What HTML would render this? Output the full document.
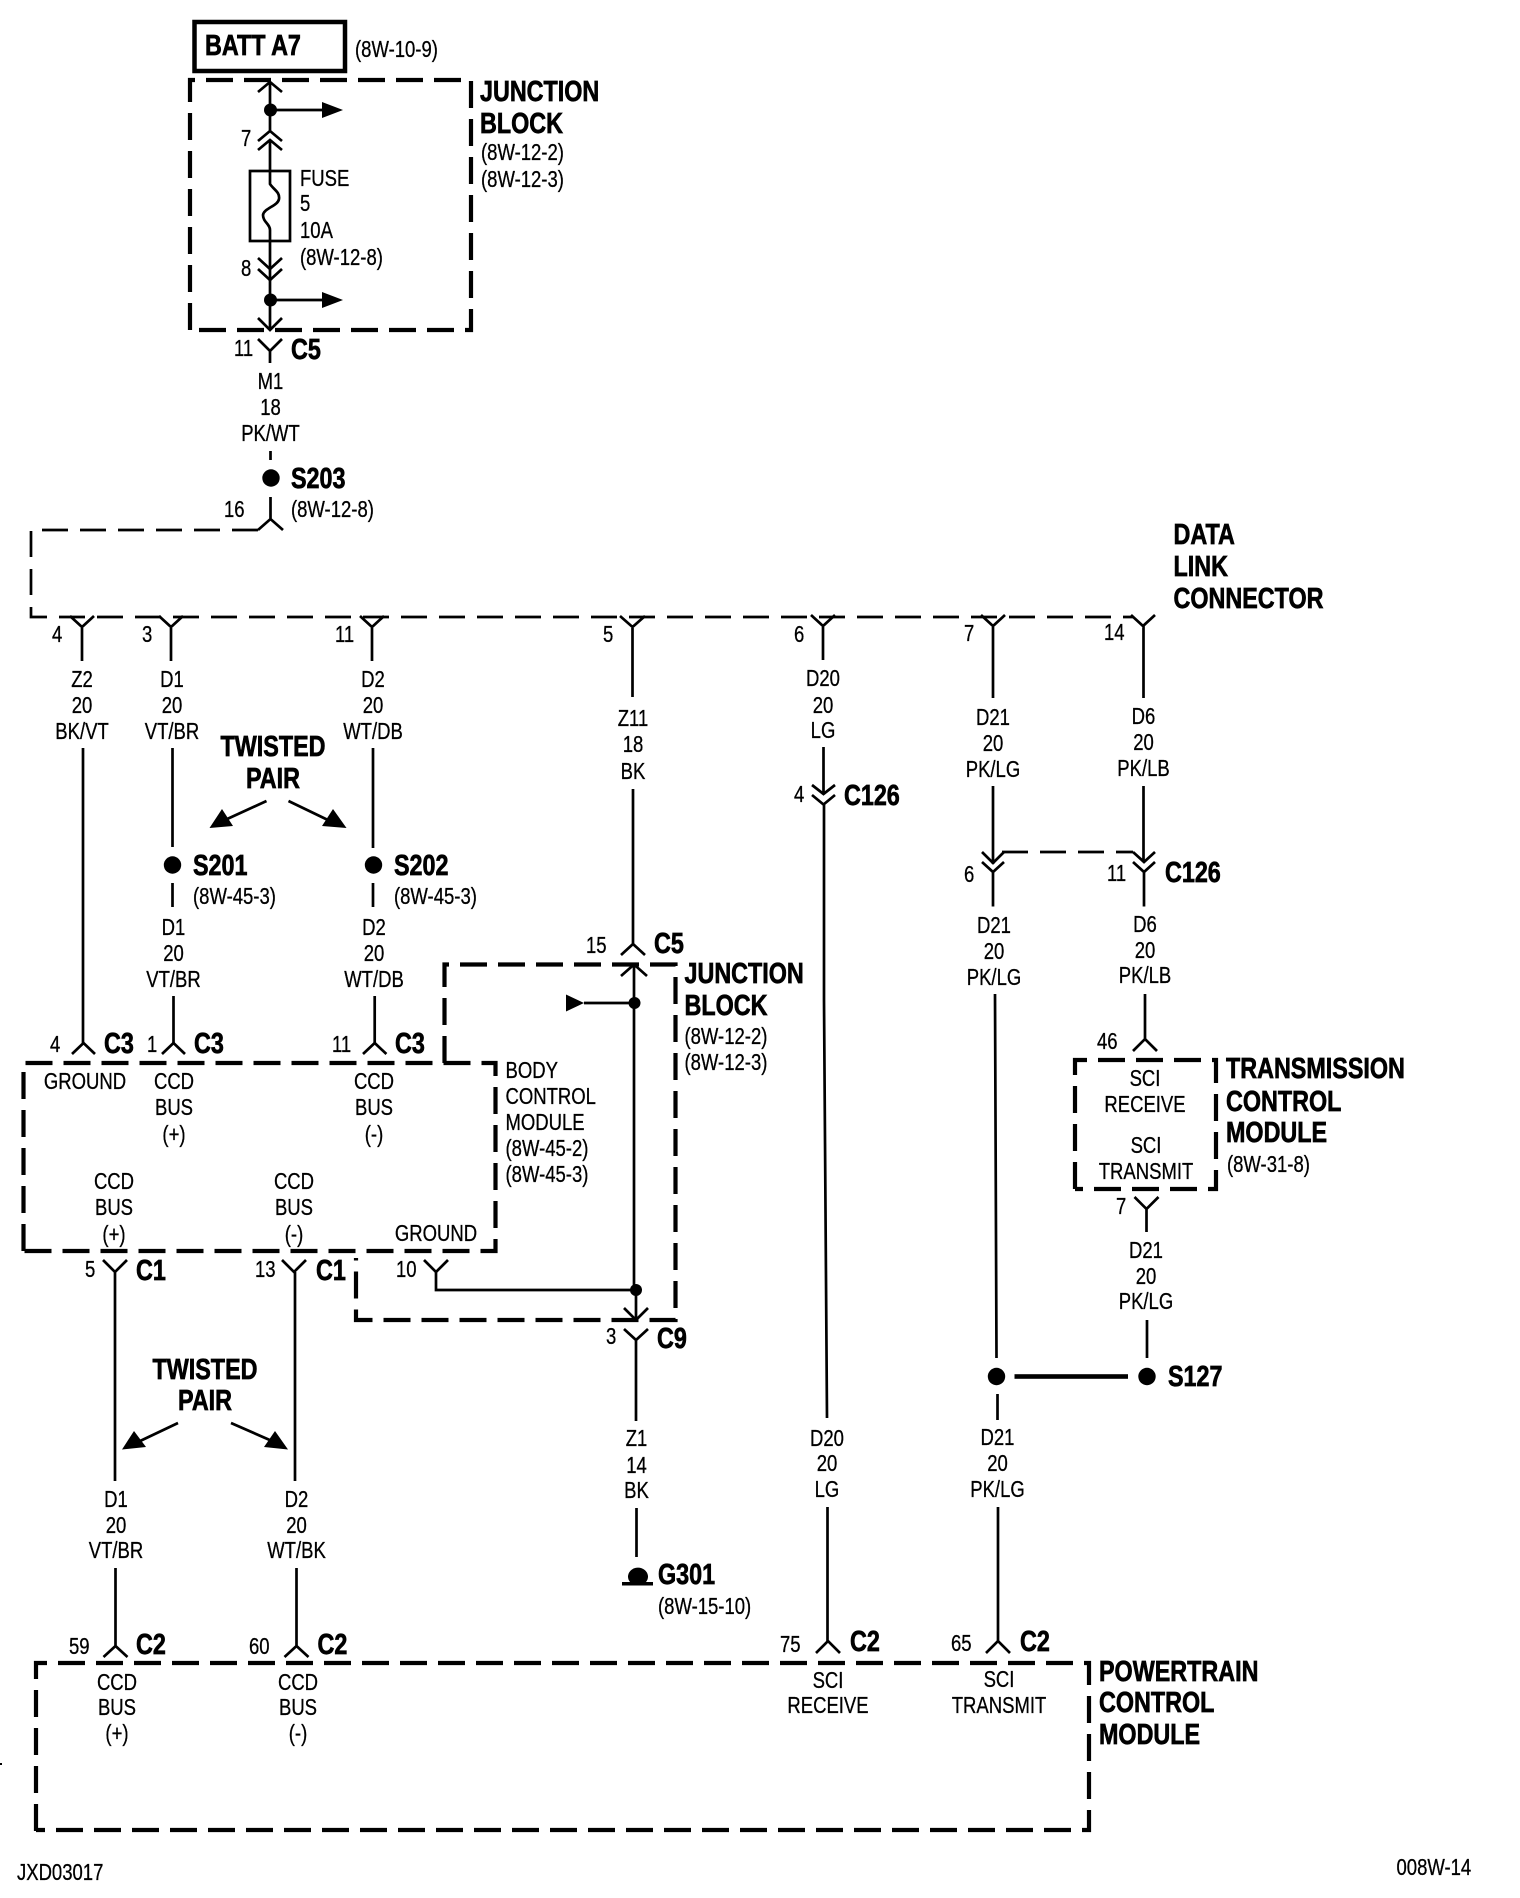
<!DOCTYPE html>
<html><head><meta charset="utf-8"><style>
html,body{margin:0;padding:0;background:#fff;width:1520px;height:1898px;overflow:hidden}
svg{display:block}
text{font-family:"Liberation Sans",sans-serif;font-size:23px;fill:#000;stroke:#000;stroke-width:.3;transform-box:fill-box;transform-origin:left center;transform:scaleX(.805)}
text.m{text-anchor:middle;transform-origin:center}
text.b{font-weight:bold;font-size:29px;stroke:#000;stroke-width:.7}
.w{fill:none;stroke:#000;stroke-width:2.7}
.d{fill:none;stroke:#000;stroke-width:4.2;stroke-dasharray:27 11}
.t{fill:none;stroke:#000;stroke-width:2.7;stroke-dasharray:26 12}
</style></head><body>
<svg width="1520" height="1898" viewBox="0 0 1520 1898" xmlns="http://www.w3.org/2000/svg">
<rect x="194.500" y="22" width="150.500" height="49" fill="none" stroke="#000" stroke-width="4.5"/>
<text class="b" x="205" y="55">BATT A7</text>
<text x="355" y="57">(8W-10-9)</text>
<path class="d" d="M190 330V80H471V330H190"/>
<text class="b" x="480" y="101">JUNCTION</text>
<text class="b" x="480" y="133">BLOCK</text>
<text x="481" y="160">(8W-12-2)</text>
<text x="481" y="187">(8W-12-3)</text>

<path class="w" d="M270 82V131M258 92l12-10l12 10M258 141l12-10l12 10M258 150l12-10l12 10M270 140V171"/>
<path class="w" d="M270 110H322"/><path d="M322 102L343 110L322 118Z"/><circle cx="270.500" cy="110" r="6.500"/>
<text x="241" y="146">7</text>
<rect x="250" y="171" width="40" height="70" fill="none" stroke="#000" stroke-width="2.700"/>
<path class="w" d="M270 171V184C274 190 280 192 279 199C278 206 264 208 263 215C263 222 270 224 270 230V281"/>
<text x="300" y="186">FUSE</text>
<text x="300" y="211">5</text>
<text x="300" y="238">10A</text>
<text x="300" y="265">(8W-12-8)</text>
<path class="w" d="M258 258l12 11l12-11M258 269l12 11l12-11"/>
<text x="241" y="276">8</text>
<path class="w" d="M270 280V330M258 318l12 12l12-12M270 300H322"/><path d="M322 292L343 300L322 308Z"/><circle cx="270.500" cy="300" r="6.500"/>
<path class="w" d="M258 339l12 12l12-12M270 351V363"/>
<text x="234" y="356">11</text>
<text class="b" x="291" y="359">C5</text>
<text class="m" x="270.500" y="389">M1</text>
<text class="m" x="270.500" y="415">18</text>
<text class="m" x="270.500" y="441">PK/WT</text>
<path class="w" d="M270.500 451V460M270.500 497V519M258 530l12.500-11l12.500 11"/>
<circle cx="271" cy="478" r="8.700"/>
<text class="b" x="291" y="488">S203</text>
<text x="224" y="517">16</text>
<text x="291" y="517">(8W-12-8)</text>

<path class="t" d="M258 530H31V617H1133"/>
<path class="w" d="M70 616l12 11l12-11M82 627V661M159 616l12 11l12-11M171 627V661M360 616l12 11l12-11M372 627V661M620 616l12.500 11l12.500-11M632.500 627V697M811 615l12 11l12-11M823 626V660M981 615l12 11l12-11M993 626V698M1131 615l12 11l12-11M1143.500 626V698"/>
<text x="52" y="642">4</text><text x="142" y="642">3</text><text x="335" y="642">11</text><text x="603" y="642">5</text>
<text x="794" y="642">6</text><text x="964" y="641">7</text><text x="1104" y="640">14</text>
<text class="b" x="1173.500" y="544">DATA</text>
<text class="b" x="1173.500" y="576">LINK</text>
<text class="b" x="1173.500" y="608">CONNECTOR</text>

<text class="m" x="82" y="687">Z2</text><text class="m" x="82" y="713">20</text><text class="m" x="82" y="739">BK/VT</text>
<text class="m" x="172" y="687">D1</text><text class="m" x="172" y="713">20</text><text class="m" x="172" y="739">VT/BR</text>
<text class="m" x="373" y="687">D2</text><text class="m" x="373" y="713">20</text><text class="m" x="373" y="739">WT/DB</text>
<path class="w" d="M83 748V1044M172.500 748V847M373 748V848M172.500 883V907M373 883V907M173.500 996V1044M374.700 996V1044"/>
<circle cx="172.500" cy="865" r="8.700"/><circle cx="373.500" cy="865" r="8.700"/>
<text class="b" x="193" y="875">S201</text><text x="193" y="904">(8W-45-3)</text>
<text class="b" x="394" y="875">S202</text><text x="394" y="904">(8W-45-3)</text>
<text class="m" x="173.500" y="935">D1</text><text class="m" x="173.500" y="961">20</text><text class="m" x="173.500" y="987">VT/BR</text>
<text class="m" x="374" y="935">D2</text><text class="m" x="374" y="961">20</text><text class="m" x="374" y="987">WT/DB</text>
<text class="b m" x="273" y="756">TWISTED</text><text class="b m" x="273" y="788">PAIR</text>
<path class="w" d="M266.500 801L225 820M288.500 801L330 821"/>
<path d="M209.500 828L222 809L233 826Z"/><path d="M346.500 828L322 826L333 809Z"/>
<path class="w" d="M72 1054l11.500-11l11.500 11M162 1054l11.500-11l11.500 11M363 1054l11.700-11l11.700 11"/>
<text x="50" y="1052">4</text><text class="b" x="104" y="1053">C3</text>
<text x="147" y="1052">1</text><text class="b" x="194" y="1053">C3</text>
<text x="332" y="1052">11</text><text class="b" x="395" y="1053">C3</text>

<path class="d" d="M23.500 1251V1063H495.500V1251H23.500"/>
<text class="m" x="85" y="1089">GROUND</text>
<text class="m" x="174" y="1089">CCD</text><text class="m" x="174" y="1115">BUS</text><text class="m" x="174" y="1142">(+)</text>
<text class="m" x="374" y="1089">CCD</text><text class="m" x="374" y="1115">BUS</text><text class="m" x="374" y="1142">(-)</text>
<text class="m" x="114" y="1189">CCD</text><text class="m" x="114" y="1215">BUS</text><text class="m" x="114" y="1242">(+)</text>
<text class="m" x="294" y="1189">CCD</text><text class="m" x="294" y="1215">BUS</text><text class="m" x="294" y="1242">(-)</text>
<text class="m" x="436" y="1241">GROUND</text>
<text x="505.500" y="1078">BODY</text><text x="505.500" y="1104">CONTROL</text><text x="505.500" y="1130">MODULE</text><text x="505.500" y="1156">(8W-45-2)</text><text x="505.500" y="1182">(8W-45-3)</text>

<path class="d" d="M444.500 1063V964.500H675.500V1320H356V1258"/>
<text class="b" x="684.500" y="983">JUNCTION</text><text class="b" x="684.500" y="1015">BLOCK</text>
<text x="684.500" y="1044">(8W-12-2)</text><text x="684.500" y="1070">(8W-12-3)</text>
<text class="m" x="633" y="726">Z11</text><text class="m" x="633" y="752">18</text><text class="m" x="633" y="779">BK</text>
<path class="w" d="M633 789V944M621 955l12-11l12 11M621 976l13-11.500l13 11.500M634 965V1290M636 1290V1320M624 1308l12 12l12-12M584 1003H634M436 1272V1290H636"/>
<path d="M566 994.500L584 1003L566 1011.500Z"/><circle cx="634.500" cy="1003" r="6"/><circle cx="636" cy="1290" r="6"/>
<text x="586" y="953">15</text><text class="b" x="654" y="953">C5</text>
<path class="w" d="M424 1260l12 12l12-12"/>
<text x="396" y="1277">10</text>
<path class="w" d="M103 1260l12 12l12-12M115 1272V1481M282 1260l12 12l12-12M295 1272V1481"/>
<text x="85" y="1277">5</text><text class="b" x="136" y="1280">C1</text>
<text x="255" y="1277">13</text><text class="b" x="316" y="1280">C1</text>
<path class="w" d="M624 1329l12 11l12-11M636 1340V1421M636.500 1508V1557"/>
<text x="606" y="1344">3</text><text class="b" x="657" y="1348">C9</text>
<text class="m" x="636.500" y="1446">Z1</text><text class="m" x="636.500" y="1473">14</text><text class="m" x="636.500" y="1498">BK</text>
<path d="M630 1582A10 9 0 1 1 646 1582Z"/>
<rect x="622" y="1582" width="31" height="3.500"/>
<text class="b" x="658" y="1584">G301</text><text x="658" y="1614">(8W-15-10)</text>

<text class="b m" x="205" y="1379">TWISTED</text><text class="b m" x="205" y="1410">PAIR</text>
<path class="w" d="M178 1423L138 1442M231 1423L272 1441"/>
<path d="M122 1449.500L134 1431L146 1447Z"/><path d="M288 1449.500L264 1447L275 1431Z"/>
<text class="m" x="116" y="1507">D1</text><text class="m" x="116" y="1533">20</text><text class="m" x="116" y="1558">VT/BR</text>
<text class="m" x="296.500" y="1507">D2</text><text class="m" x="296.500" y="1533">20</text><text class="m" x="296.500" y="1558">WT/BK</text>
<path class="w" d="M115.500 1568V1646M103.500 1657l12-11l12 11M296.500 1568V1646M284.500 1657l12-11l12 11"/>
<text x="69" y="1654">59</text><text class="b" x="136" y="1654">C2</text>
<text x="249" y="1654">60</text><text class="b" x="317.500" y="1654">C2</text>

<path class="d" d="M36 1831V1663H1089V1830H36"/>
<text class="m" x="117" y="1690">CCD</text><text class="m" x="117" y="1715">BUS</text><text class="m" x="117" y="1741">(+)</text>
<text class="m" x="298" y="1690">CCD</text><text class="m" x="298" y="1715">BUS</text><text class="m" x="298" y="1741">(-)</text>
<text x="17" y="1880">JXD03017</text>
<rect x="0" y="1763" width="2" height="2"/>

<text class="m" x="823" y="686">D20</text><text class="m" x="823" y="713">20</text><text class="m" x="823" y="738">LG</text>
<path class="w" d="M823.500 747V794M812 785l11.500 9l11.500-9M812 795l11.500 9.500l11.500-9.500M824 804V1000L827 1418"/>
<text x="794" y="802">4</text><text class="b" x="844" y="805">C126</text>

<text class="m" x="993" y="725">D21</text><text class="m" x="993" y="751">20</text><text class="m" x="993" y="777">PK/LG</text>
<text class="m" x="1143.500" y="724">D6</text><text class="m" x="1143.500" y="750">20</text><text class="m" x="1143.500" y="776">PK/LB</text>
<path class="w" d="M993 786V864M982 852l11 11l11-11M982 862l11 10l11-10M993 872V906.500"/>
<path class="w" d="M1143.500 786V862M1133 852l11 10l11-10M1133 862l11 10l11-10M1144 871V906.500"/>
<path class="t" d="M1002 852H1133"/>
<text x="964" y="882">6</text><text x="1107" y="881">11</text><text class="b" x="1165" y="882">C126</text>
<text class="m" x="994" y="933">D21</text><text class="m" x="994" y="959">20</text><text class="m" x="994" y="985">PK/LG</text>
<text class="m" x="1145" y="932">D6</text><text class="m" x="1145" y="958">20</text><text class="m" x="1145" y="983">PK/LB</text>
<path class="w" d="M995 994L996.500 1358M997.500 1394V1420M1145 994V1039M1133 1051l12-12l12 12"/>
<text x="1097" y="1049">46</text>

<path class="d" d="M1075 1189V1060H1216V1189H1075"/>
<text class="b" x="1226" y="1078">TRANSMISSION</text><text class="b" x="1226" y="1111">CONTROL</text><text class="b" x="1226" y="1142">MODULE</text>
<text x="1227" y="1172">(8W-31-8)</text>
<text class="m" x="1145" y="1086">SCI</text><text class="m" x="1145" y="1112">RECEIVE</text>
<text class="m" x="1146" y="1153">SCI</text><text class="m" x="1146" y="1179">TRANSMIT</text>
<path class="w" d="M1134.500 1197l12 12l12-12M1146.500 1209V1232M1147 1320V1358"/>
<text x="1116" y="1214">7</text>
<text class="m" x="1146" y="1258">D21</text><text class="m" x="1146" y="1284">20</text><text class="m" x="1146" y="1309">PK/LG</text>
<circle cx="996.500" cy="1376.500" r="8.700"/><circle cx="1147" cy="1376.500" r="8.700"/>
<rect x="1014.500" y="1374.200" width="113.500" height="4.600"/>
<text class="b" x="1168" y="1386">S127</text>

<text class="m" x="827" y="1446">D20</text><text class="m" x="827" y="1471">20</text><text class="m" x="827" y="1497">LG</text>
<text class="m" x="997.500" y="1445">D21</text><text class="m" x="997.500" y="1471">20</text><text class="m" x="997.500" y="1497">PK/LG</text>
<path class="w" d="M827.500 1507V1641M816 1653l12-12l12 12M998 1507V1641M986 1653l12-12l12 12"/>
<text x="780" y="1652">75</text><text class="b" x="850" y="1651">C2</text>
<text x="951" y="1651">65</text><text class="b" x="1020" y="1651">C2</text>
<text class="m" x="828" y="1688">SCI</text><text class="m" x="828" y="1713">RECEIVE</text>
<text class="m" x="999" y="1687">SCI</text><text class="m" x="999" y="1713">TRANSMIT</text>
<text class="b" x="1099" y="1681">POWERTRAIN</text><text class="b" x="1099" y="1712">CONTROL</text><text class="b" x="1099" y="1744">MODULE</text>
<text x="1396.500" y="1875">008W-14</text>
</svg>
</body></html>
